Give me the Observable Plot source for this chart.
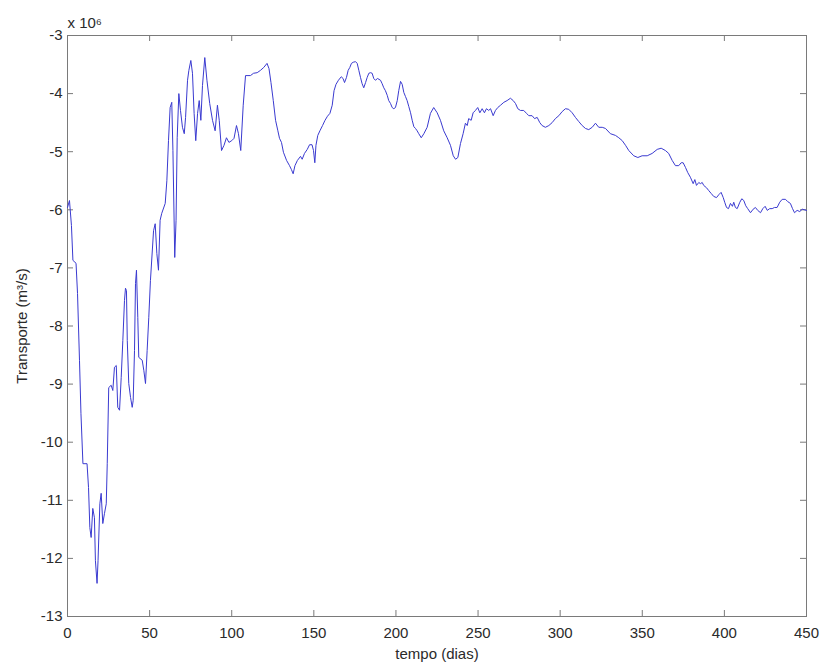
<!DOCTYPE html>
<html>
<head>
<meta charset="utf-8">
<script src="https://cdn.jsdelivr.net/npm/d3@7"></script>
<script src="https://cdn.jsdelivr.net/npm/@observablehq/plot@0.6"></script>
<style>
  html, body { margin: 0; padding: 0; background: #fff; }
  #chart svg { display: block; }
</style>
</head>
<body>
<div id="chart"></div>
<script>
// Time axis (days) and volume transport (in units of 10^6 m^3/s)
const days = [
  0, 1.2, 2.4, 3.3, 5.2, 6.1, 7.3, 8.2, 9.4, 11.9, 12.8, 13.6, 14.4, 15.4, 16.4, 17.0, 18.0, 18.6, 19.7, 20.5,
  21.5, 22.5, 23.6, 24.2, 25.1, 26.6, 27.6, 28.6, 29.7, 30.6, 31.7, 32.7, 33.7, 34.7, 35.3, 35.9, 36.4, 37.3, 38.4, 39.4,
  40.0, 40.8, 41.4, 42.0, 42.8, 43.4, 45.5, 46.5, 47.5, 48.5, 49.5, 50.5, 52.4, 53.4, 54.4, 55.4, 56.4, 57.4, 59.5, 60.5,
  61.5, 62.5, 63.5, 64.2, 65.3, 66.1, 66.8, 67.8, 68.8, 70.0, 71.1, 71.9, 73.1, 73.9, 75.1, 76.1, 77.1, 78.1, 79.2, 80.2,
  81.2, 82.2, 83.6, 84.9, 86.6, 88.3, 89.9, 91.3, 92.4, 93.8, 95.3, 96.8, 98.3, 100.0, 101.4, 102.9, 104.1, 105.5, 107.0, 108.4,
  109.9, 111.4, 113.3, 115.5, 117.5, 119.5, 121.5, 122.7, 123.9, 125.3, 126.7, 128.1, 129.1, 130.3, 131.5, 133.4, 135.2, 136.4, 137.4, 138.5,
  140.0, 141.9, 142.9, 144.3, 146.0, 147.4, 148.9, 149.8, 150.6, 151.3, 152.4, 153.7, 155.3, 156.8, 158.3, 159.8, 161.2, 162.3, 163.5, 165.0,
  166.7, 167.8, 168.7, 169.9, 170.9, 171.9, 172.9, 174.0, 175.4, 176.4, 177.4, 178.4, 179.4, 180.4, 181.5, 182.5, 183.5, 184.5, 185.5, 186.5,
  187.5, 188.8, 190.6, 191.6, 192.6, 193.6, 194.7, 195.6, 196.7, 197.7, 198.7, 199.7, 200.8, 201.7, 202.8, 203.8, 204.8, 205.8, 206.8, 207.8,
  208.9, 209.9, 210.9, 211.9, 212.9, 213.9, 215.4, 217.0, 219.0, 221.0, 223.0, 225.1, 227.1, 229.1, 231.2, 233.2, 234.9, 236.3, 237.7, 239.3,
  240.9, 242.3, 243.4, 244.3, 245.8, 247.0, 248.4, 249.8, 251.1, 252.5, 253.9, 255.1, 256.5, 257.6, 259.2, 260.6, 262.0, 263.7, 265.7, 267.7,
  269.7, 271.4, 272.8, 274.2, 275.8, 277.8, 279.5, 280.9, 282.9, 284.4, 286.0, 287.6, 289.0, 291.0, 293.1, 295.1, 297.1, 299.2, 301.2, 303.2,
  305.2, 307.3, 309.3, 311.3, 313.4, 315.4, 317.4, 319.5, 321.5, 323.5, 325.6, 327.6, 330.6, 333.7, 335.7, 337.8, 339.8, 341.8, 344.8, 347.3,
  349.9, 353.0, 356.0, 359.1, 361.5, 364.1, 366.1, 368.2, 370.2, 372.2, 373.7, 374.9, 376.3, 377.7, 379.3, 381.0, 382.0, 383.0, 384.4, 385.4,
  386.5, 387.4, 389.1, 390.5, 392.0, 393.5, 395.2, 396.6, 398.0, 399.3, 400.2, 401.3, 402.5, 403.7, 404.9, 405.7, 406.7, 407.8, 409.4, 410.6,
  411.8, 413.0, 414.2, 415.9, 417.5, 418.9, 420.3, 422.0, 423.4, 424.8, 426.1, 427.6, 429.1, 430.5, 432.1, 433.7, 435.2, 437.2, 438.6, 440.2,
  441.5, 442.7, 444.3, 445.9, 447.4, 450.0
];

const transport = [
  -5.96, -5.84, -6.27, -6.87, -6.92, -7.44, -8.59, -9.51, -10.37, -10.37, -10.78, -11.47, -11.64, -11.14, -11.30, -12.04, -12.43, -12.04, -11.06, -10.88,
  -11.40, -11.23, -11.06, -10.37, -9.06, -9.02, -9.11, -8.71, -8.68, -9.40, -9.45, -8.89, -8.25, -7.56, -7.35, -7.39, -8.25, -8.99, -9.23, -9.40,
  -9.28, -8.42, -7.27, -7.04, -7.85, -8.54, -8.59, -8.77, -8.99, -8.42, -7.85, -7.22, -6.36, -6.24, -6.75, -7.04, -6.18, -6.06, -5.89, -5.50,
  -4.81, -4.24, -4.15, -4.98, -6.82, -6.18, -4.76, -4.00, -4.29, -4.58, -4.69, -4.41, -3.77, -3.60, -3.43, -3.65, -4.34, -4.81, -4.34, -4.12,
  -4.46, -3.86, -3.38, -3.77, -4.17, -4.46, -4.64, -4.20, -4.46, -4.98, -4.89, -4.76, -4.84, -4.81, -4.77, -4.55, -4.69, -4.98, -4.20, -3.69,
  -3.69, -3.69, -3.65, -3.64, -3.60, -3.55, -3.48, -3.57, -3.81, -4.12, -4.46, -4.64, -4.77, -4.84, -5.01, -5.15, -5.24, -5.31, -5.38, -5.24,
  -5.15, -5.08, -5.13, -5.03, -4.96, -4.88, -4.88, -4.98, -5.19, -4.89, -4.72, -4.64, -4.55, -4.46, -4.39, -4.34, -4.20, -3.95, -3.84, -3.77,
  -3.71, -3.74, -3.81, -3.72, -3.60, -3.55, -3.48, -3.46, -3.45, -3.48, -3.60, -3.72, -3.83, -3.90, -3.81, -3.72, -3.65, -3.64, -3.65, -3.74,
  -3.77, -3.74, -3.77, -3.83, -3.90, -3.95, -4.03, -4.12, -4.17, -4.24, -4.26, -4.24, -4.12, -3.95, -3.79, -3.84, -3.98, -4.05, -4.12, -4.22,
  -4.33, -4.46, -4.57, -4.60, -4.64, -4.69, -4.76, -4.69, -4.58, -4.34, -4.24, -4.33, -4.46, -4.64, -4.76, -4.89, -5.07, -5.13, -5.10, -4.86,
  -4.69, -4.51, -4.55, -4.43, -4.46, -4.33, -4.29, -4.24, -4.33, -4.26, -4.33, -4.26, -4.29, -4.26, -4.38, -4.29, -4.24, -4.20, -4.15, -4.12,
  -4.08, -4.12, -4.17, -4.26, -4.29, -4.29, -4.34, -4.38, -4.38, -4.43, -4.41, -4.50, -4.55, -4.58, -4.55, -4.50, -4.43, -4.38, -4.31, -4.26,
  -4.27, -4.33, -4.41, -4.48, -4.55, -4.60, -4.62, -4.58, -4.51, -4.58, -4.58, -4.60, -4.69, -4.72, -4.76, -4.81, -4.89, -4.98, -5.07, -5.10,
  -5.07, -5.07, -5.03, -4.96, -4.94, -4.98, -5.03, -5.15, -5.24, -5.24, -5.19, -5.19, -5.27, -5.36, -5.44, -5.55, -5.48, -5.58, -5.53, -5.55,
  -5.53, -5.58, -5.62, -5.67, -5.72, -5.77, -5.79, -5.74, -5.70, -5.79, -5.87, -5.96, -5.98, -5.89, -5.94, -5.87, -5.96, -5.98, -5.87, -5.81,
  -5.84, -5.93, -5.98, -6.05, -5.99, -5.96, -6.01, -6.05, -5.98, -5.94, -6.01, -5.98, -5.98, -5.96, -5.96, -5.87, -5.82, -5.82, -5.86, -5.89,
  -5.98, -6.05, -6.01, -6.03, -5.99, -6.01
];

const xTicks = [0, 50, 100, 150, 200, 250, 300, 350, 400, 450];
const yTicks = [-13, -12, -11, -10, -9, -8, -7, -6, -5, -4, -3];

const xLabel = "tempo (dias)";
const yLabel = "Transporte (m³/s)";
const yExponent = "x 10⁶";

const series = days.map((d, i) => ({dia: d, transporte: transport[i]}));

const W = 822, H = 666;
const mL = 67, mR = 16, mT = 35, mB = 50;
const innerW = W - mL - mR, innerH = H - mT - mB;
const tickLen = 6;
const axisColor = "#7a7a7a";
const textColor = "#2a2a2a";
const fs = 15;
const plainNumber = (d) => String(d); // ASCII hyphen, no decimals

const chart = Plot.plot({
  width: W,
  height: H,
  marginLeft: mL,
  marginRight: mR,
  marginTop: mT,
  marginBottom: mB,
  style: {fontFamily: "'Liberation Sans', Arial, sans-serif", fontSize: fs + "px", color: textColor, background: "#fff"},
  x: {domain: [0, 450]},
  y: {domain: [-13, -3]},
  marks: [
    Plot.frame({stroke: axisColor}),
    // inward-pointing ticks on all four sides of the box
    Plot.ruleX(xTicks, {stroke: axisColor, insetTop: innerH - tickLen}),
    Plot.ruleX(xTicks, {stroke: axisColor, insetBottom: innerH - tickLen}),
    Plot.ruleY(yTicks, {stroke: axisColor, insetRight: innerW - tickLen}),
    Plot.ruleY(yTicks, {stroke: axisColor, insetLeft: innerW - tickLen}),
    Plot.axisX(xTicks, {tickSize: 0, tickPadding: 11, label: null, tickFormat: plainNumber, fill: textColor}),
    Plot.axisY(yTicks, {tickSize: 0, tickPadding: 5, label: null, tickFormat: plainNumber, fill: textColor}),
    Plot.line(series, {x: "dia", y: "transporte", stroke: "#3a3ad0", strokeWidth: 1}),
    Plot.text([xLabel], {frameAnchor: "bottom", lineAnchor: "middle", textAnchor: "middle", dy: 38, fill: textColor, fontSize: fs}),
    Plot.text([yLabel], {frameAnchor: "left", lineAnchor: "middle", textAnchor: "middle", dx: -45, rotate: -90, fill: textColor, fontSize: fs}),
    Plot.text([yExponent], {frameAnchor: "top-left", textAnchor: "start", lineAnchor: "middle", dy: -12, fill: textColor, fontSize: fs})
  ]
});

document.getElementById("chart").appendChild(chart);
</script>
</body>
</html>
